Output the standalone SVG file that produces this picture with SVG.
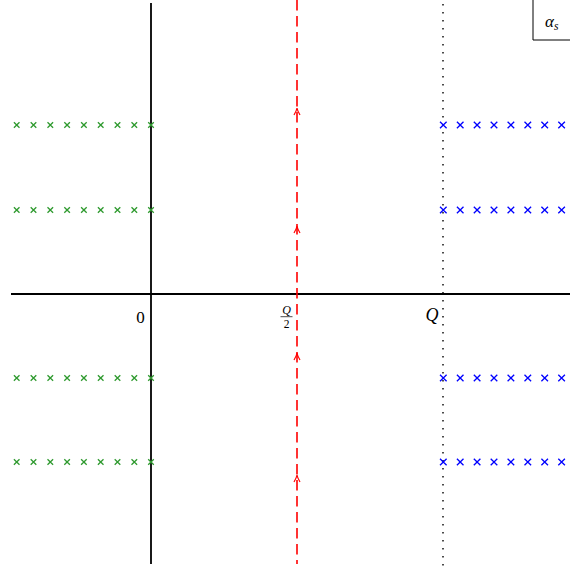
<svg xmlns="http://www.w3.org/2000/svg" width="570" height="571" viewBox="0 0 570 571">
<defs>
<style>
.axis{stroke:#000;stroke-width:1.8;fill:none}
.contour{stroke:#ff0000;stroke-width:1.6;fill:none;stroke-dasharray:10.5 5.5}
.dot{stroke:#000;stroke-width:1.4;fill:none;stroke-dasharray:1.4 6.6}
.gx{stroke:#2f9a2f;stroke-width:1.3;fill:none}
.bx{stroke:#0000ff;stroke-width:1.3;fill:none}
.arr{stroke:#ff0000;stroke-width:1.2;fill:none}
.lbl{font-family:"Liberation Serif","DejaVu Serif",serif;fill:#000}
.it{font-style:italic}
</style>
<path id="g" class="gx" d="M-2.8,-2.8L2.8,2.8M-2.8,2.8L2.8,-2.8"/>
<path id="b" class="bx" d="M-3.3,-3.3L3.3,3.3M-3.3,3.3L3.3,-3.3"/>
<path id="ah" class="arr" d="M-3,7 Q-0.5,3 0,0 Q0.5,3 3,7"/>
</defs>
<rect width="570" height="571" fill="#fff"/>
<g id="connectors">
<line class="axis" x1="11" y1="294" x2="570" y2="294"/>
<line class="axis" x1="151" y1="3" x2="151" y2="564"/>
<line class="contour" x1="297" y1="0" x2="297" y2="564"/>
<line class="dot" x1="443" y1="4" x2="443" y2="566"/>
<use href="#ah" x="297" y="108"/>
<use href="#ah" x="297" y="226"/>
<use href="#ah" x="297" y="353"/>
<use href="#ah" x="297" y="475"/>
</g>
<g id="green-poles">
<g transform="translate(0,125)"><use href="#g" x="16.7"/><use href="#g" x="33.5"/><use href="#g" x="50.3"/><use href="#g" x="67.1"/><use href="#g" x="83.9"/><use href="#g" x="100.7"/><use href="#g" x="117.5"/><use href="#g" x="134.3"/><use href="#g" x="151"/></g>
<g transform="translate(0,210)"><use href="#g" x="16.7"/><use href="#g" x="33.5"/><use href="#g" x="50.3"/><use href="#g" x="67.1"/><use href="#g" x="83.9"/><use href="#g" x="100.7"/><use href="#g" x="117.5"/><use href="#g" x="134.3"/><use href="#g" x="151"/></g>
<g transform="translate(0,378)"><use href="#g" x="16.7"/><use href="#g" x="33.5"/><use href="#g" x="50.3"/><use href="#g" x="67.1"/><use href="#g" x="83.9"/><use href="#g" x="100.7"/><use href="#g" x="117.5"/><use href="#g" x="134.3"/><use href="#g" x="151"/></g>
<g transform="translate(0,462)"><use href="#g" x="16.7"/><use href="#g" x="33.5"/><use href="#g" x="50.3"/><use href="#g" x="67.1"/><use href="#g" x="83.9"/><use href="#g" x="100.7"/><use href="#g" x="117.5"/><use href="#g" x="134.3"/><use href="#g" x="151"/></g>
</g>
<g id="blue-poles">
<g transform="translate(0,125)"><use href="#b" x="443.3"/><use href="#b" x="460.2"/><use href="#b" x="477.1"/><use href="#b" x="494"/><use href="#b" x="510.9"/><use href="#b" x="527.8"/><use href="#b" x="544.7"/><use href="#b" x="561.6"/></g>
<g transform="translate(0,210)"><use href="#b" x="443.3"/><use href="#b" x="460.2"/><use href="#b" x="477.1"/><use href="#b" x="494"/><use href="#b" x="510.9"/><use href="#b" x="527.8"/><use href="#b" x="544.7"/><use href="#b" x="561.6"/></g>
<g transform="translate(0,378)"><use href="#b" x="443.3"/><use href="#b" x="460.2"/><use href="#b" x="477.1"/><use href="#b" x="494"/><use href="#b" x="510.9"/><use href="#b" x="527.8"/><use href="#b" x="544.7"/><use href="#b" x="561.6"/></g>
<g transform="translate(0,462)"><use href="#b" x="443.3"/><use href="#b" x="460.2"/><use href="#b" x="477.1"/><use href="#b" x="494"/><use href="#b" x="510.9"/><use href="#b" x="527.8"/><use href="#b" x="544.7"/><use href="#b" x="561.6"/></g>
</g>
<g id="label-zero"><text class="lbl" x="140.5" y="323" font-size="17" text-anchor="middle">0</text></g>
<g id="label-half-q">
<text class="lbl it" x="286.5" y="314" font-size="12" text-anchor="middle">Q</text>
<line x1="280.5" y1="316.7" x2="292.5" y2="316.7" stroke="#000" stroke-width="0.7"/>
<text class="lbl" x="286.5" y="328" font-size="11.5" text-anchor="middle">2</text>
</g>
<g id="label-q"><text class="lbl it" x="432" y="321" font-size="18" text-anchor="middle">Q</text></g>
<g id="label-alpha">
<path d="M533,0 V40 H570" stroke="#000" stroke-width="1" fill="none"/>
<text class="lbl it" x="545" y="27" font-size="17">α<tspan font-size="11.5" dy="3">s</tspan></text>
</g>
</svg>
